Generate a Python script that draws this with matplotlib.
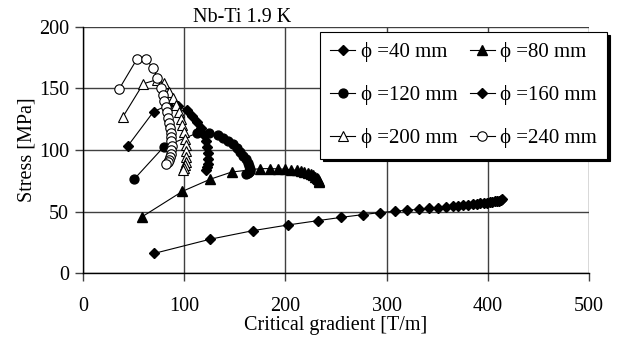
import numpy as np
import matplotlib
matplotlib.use("Agg")
import matplotlib.pyplot as plt

plt.rcParams['font.family'] = ['Liberation Serif', 'DejaVu Serif']
plt.rcParams['font.size'] = 14.5

# critical gradient [T/m] and peak stress [MPa] for each aperture
g40 = [70.6, 125.4, 168, 202.5, 232, 255.3, 276.6, 293, 308.4, 320.5, 332.3, 341.9, 351,
       358.6, 365.2, 370.7, 375.7, 380.5, 385, 389, 392.5, 395.8, 399, 401.8, 404.4,
       406.8, 409, 411, 412.6, 413.6]
s40 = [16.2, 27.6, 34.6, 39.2, 42.7, 45.4, 47.6, 49.2, 50.4, 51.2, 51.9, 52.6, 53.3,
       53.9, 54.4, 54.9, 55.3, 55.7, 56.1, 56.5, 56.8, 57.1, 57.4, 57.7, 58.0,
       58.3, 58.6, 58.9, 59.4, 60.2]

g80 = [58.5, 98.3, 125.7, 146.8, 175, 185, 193, 200, 206, 211, 215, 218.8, 222.2,
       225.2, 227.7, 229.7, 231.2, 232.3, 233, 233.4]
s80 = [45.9, 66.5, 76.3, 82.1, 84.9, 84.9, 84.7, 84.4, 84, 83.5, 82.9, 82.2, 81.4,
       80.5, 79.5, 78.4, 77.3, 76.2, 75.1, 74]

g120 = [50.4, 80, 113, 124.7, 133, 138.5, 143.5, 148, 152, 155.5, 158.5, 161, 163,
        164.3, 165, 165, 164.3, 163, 161.5]
s120 = [76.2, 102.7, 113.8, 113.5, 112.2, 110, 107.6, 104.8, 101.8, 98.7, 95.5, 92.4,
        89.5, 87, 85, 83.3, 82, 81, 80.3]

g160 = [44.5, 69.7, 84.4, 93.6, 102.8, 108, 112.5, 116.2, 119.2, 121.3, 122.7, 123.4,
        123.6, 123.3, 122.6, 121.6]
s160 = [103.5, 131.1, 136.5, 135.7, 132.4, 127.5, 122.5, 117.5, 112.5, 107.5, 102.5,
        97.5, 93, 89, 86, 84]

g200 = [39.5, 59.5, 72.8, 79.9, 85.4, 88.7, 92, 94.6, 96.6, 98.3, 99.7, 100.8, 101.6,
        102.1, 102.2, 101.9, 101.2, 100.2, 99]
s200 = [127, 153.7, 157, 154.3, 147.3, 142, 136.5, 131, 125.5, 120, 114.5, 109, 104,
        99, 94.5, 90.5, 87.5, 85.5, 84]

g240 = [35.6, 53.5, 62.5, 69.3, 73.6, 77.2, 78.9, 80.5, 82, 83.2, 84.2, 85.2, 86, 86.6,
        87, 87.3, 87.6, 87.4, 86.9, 86.0, 84.8, 83.5, 82.3]
s240 = [149.3, 174, 173.5, 166.2, 158.5, 150.5, 145, 140, 135, 130.5, 126, 122, 118,
        114, 110.5, 107, 103.5, 100, 97, 94.3, 92, 90.2, 89]

labels = ['\u03d5 =40 mm', '\u03d5 =80 mm', '\u03d5 =120 mm',
          '\u03d5 =160 mm', '\u03d5 =200 mm', '\u03d5 =240 mm']

fig = plt.figure(figsize=(6.25, 3.41), dpi=100)
ax = fig.add_axes([0.1328, 0.1985, 0.8096, 0.7232])

kw = dict(color='black', lw=0.8)
lines = []
lines += ax.plot(g40, s40, marker='D', ms=5.4, mfc='black', mec='black', **kw)
lines += ax.plot(g80, s80, marker='^', ms=6.8, mfc='black', mec='black', **kw)
lines += ax.plot(g120, s120, marker='o', ms=6.4, mfc='black', mec='black', **kw)
lines += ax.plot(g160, s160, marker='D', ms=5.4, mfc='black', mec='black', **kw)
lines += ax.plot(g200, s200, marker='^', ms=6.8, mfc='white', mec='black', mew=0.8, **kw)
lines += ax.plot(g240, s240, marker='o', ms=6.8, mfc='white', mec='black', mew=0.8, **kw)

ax.set_xlim(0, 500)
ax.set_ylim(0, 200)
ax.set_xticks(np.arange(0, 501, 100))
ax.set_yticks(np.arange(0, 201, 50))
ax.grid(True, color='#404040', lw=1.0)
ax.set_axisbelow(True)
for side in ['top', 'right']:
    ax.spines[side].set_visible(False)
for side in ['left', 'bottom']:
    ax.spines[side].set_linewidth(1.0)
ax.tick_params(axis='x', direction='out', length=6, width=1, pad=11, color='#404040')
ax.tick_params(axis='y', direction='out', length=6, width=1, pad=4, color='#404040')

ax.set_xlabel('Critical gradient [T/m]', labelpad=0)
ax.set_ylabel('Stress [MPa]', labelpad=2)
fig.text(0.3867, 0.936, 'Nb-Ti 1.9 K', ha='center', va='baseline')

# legend filled row by row: 40/80, 120/160, 200/240
order = [0, 2, 4, 1, 3, 5]
leg = fig.legend([lines[i] for i in order], [labels[i] for i in order],
                 loc='upper left', bbox_to_anchor=(0.512, 0.906), ncol=2,
                 fontsize=15, frameon=True, fancybox=False, edgecolor='black',
                 framealpha=1, shadow={'color': 'black', 'alpha': 1},
                 handlelength=1.2, handletextpad=0.25, columnspacing=0.6,
                 labelspacing=1.1, borderpad=0.5, borderaxespad=0)
leg.get_frame().set_linewidth(0.8)

fig.savefig('out.png', dpi=100)
